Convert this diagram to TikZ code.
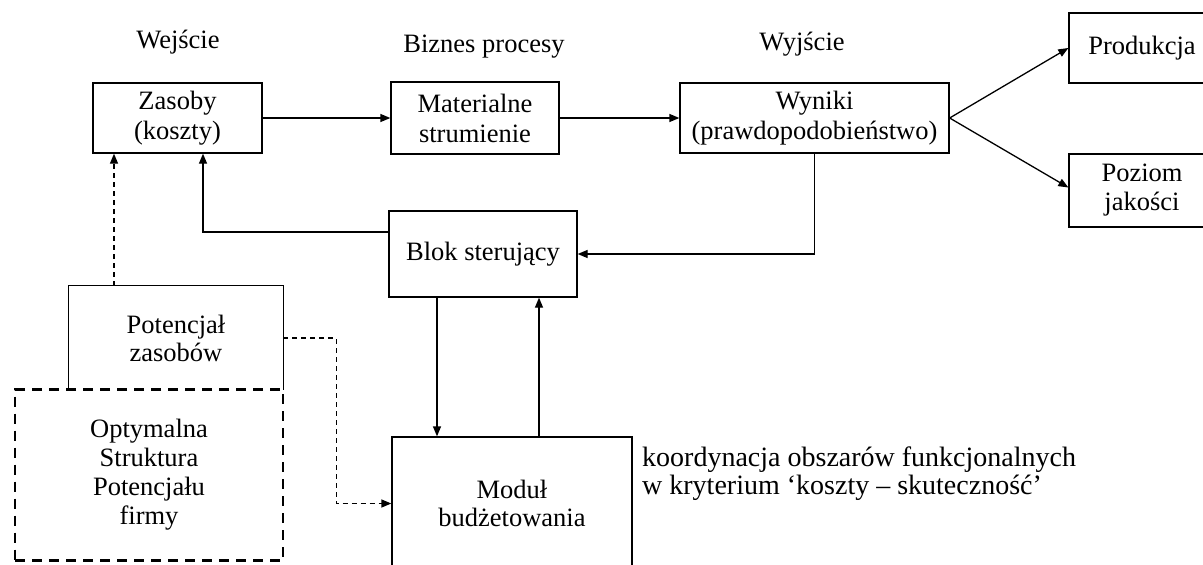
\documentclass[tikz,border=0pt]{standalone}
\usepackage{fontspec}
\setmainfont{Liberation Serif}
\usetikzlibrary{arrows.meta}
\begin{document}
\begin{tikzpicture}[x=1pt,y=-1pt,
  txt/.style={font=\fontsize{26.5}{29}\selectfont, align=center, inner sep=0pt},
  box/.style={txt, draw, line width=1.3pt},
  topbox/.style={box, font=\fontsize{26.5}{30}\selectfont},
  arr/.style={line width=1.3pt, -{Triangle[length=10pt,width=8pt]}},
  darr/.style={arr, dash pattern=on 5pt off 4pt},
  thickdash/.style={draw, line width=2.6pt, dash pattern=on 10pt off 7pt},
]
\clip (0,0) rectangle (1203,565);
% headings
\node[txt, anchor=base] (h1) at (178,48) {Wejście};
\node[txt, anchor=base] (h2) at (484,52) {Biznes procesy};
\node[txt, anchor=base] (h3) at (802,50) {Wyjście};
% boxes
\node[topbox, minimum width=169pt, minimum height=70pt] (zas) at (177.5,118) {Zasoby\\(koszty)};
\node[topbox, minimum width=168pt, minimum height=72pt] (mat) at (475,118) {Materialne\\strumienie};
\node[topbox, minimum width=269pt, minimum height=70pt] (wyn) at (814.5,118) {Wyniki\\(prawdopodobieństwo)};
\node[box, minimum width=146pt, minimum height=70pt] (prod) at (1142,48) {Produkcja};
\node[box, minimum width=146pt, minimum height=73pt] (poz) at (1142,190.5) {Poziom\\jakości};
\node[box, minimum width=188pt, minimum height=86pt] (blok) at (483,254) {Blok sterujący};
\node[box, font=\fontsize{26.5}{28}\selectfont, minimum width=240pt, minimum height=133pt] (mod) at (512,503.5) {Moduł\\budżetowania};
\node[txt, font=\fontsize{26.5}{28}\selectfont, minimum width=214pt, minimum height=104pt] (pot) at (176,338) {Potencjał\\zasobów};
\draw[line width=1.3pt] (pot.south west) -- (pot.north west) -- (pot.north east) -- (pot.south east);
\node[txt, thickdash, minimum width=268pt, minimum height=171pt] (opt) at (149,475) {Optymalna\\Struktura\\Potencjału\\firmy};
\node[txt, font=\fontsize{28}{28}\selectfont, align=left, anchor=west] (note) at (642,474) {koordynacja obszarów funkcjonalnych\\w kryterium ‘koszty – skuteczność’};
% connectors
\draw[arr] (zas) -- (mat);
\draw[arr] (mat) -- (wyn);
\draw[arr] (wyn.east) -- (prod.west);
\draw[arr] (wyn.east) -- ([yshift=3pt]poz.west);
\draw[arr] (wyn.south) |- (blok.east);
\draw[arr] ([yshift=22pt]blok.west) -| ([xshift=25.5pt]zas.south);
\draw[arr] ([xshift=-46pt]blok.south) -- ([xshift=-46pt]blok.south |- mod.north);
\draw[arr] ([xshift=56pt]blok.south |- mod.north) -- ([xshift=56pt]blok.south);
\draw[darr] ([xshift=-62pt]pot.north) -- ([xshift=-62pt]pot.north |- zas.south);
\draw[darr] (pot.east) -- ++(53,0) |- (mod.west);
\end{tikzpicture}
\end{document}
